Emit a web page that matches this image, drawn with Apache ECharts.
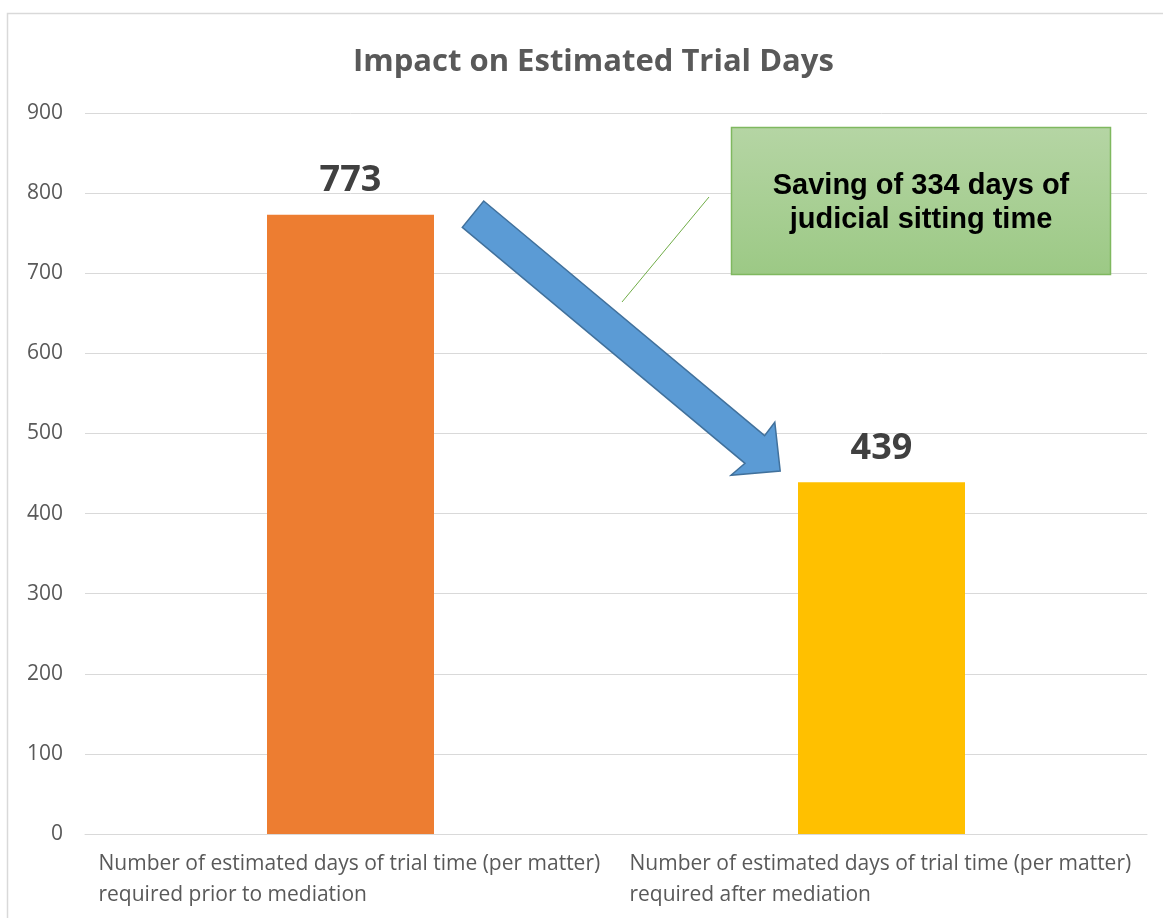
<!DOCTYPE html>
<html>
<head>
<meta charset="utf-8">
<script src="https://cdn.jsdelivr.net/npm/echarts@6/dist/echarts.min.js"></script>
<style>
html,body{margin:0;padding:0;background:#fff;}
#chart{width:1163px;height:918px;}
</style>
</head>
<body>
<div id="chart"></div>
<script>
const titleText = 'Impact on Estimated Trial Days';
const categories = [
  'Number of estimated days of trial time (per matter)\nrequired prior to mediation',
  'Number of estimated days of trial time (per matter)\nrequired after mediation'
];
const values = [773, 439];
const barColors = ['#ed7d31', '#ffc000'];
const yTicks = [0, 100, 200, 300, 400, 500, 600, 700, 800, 900];
const calloutLines = ['Saving of 334 days of', 'judicial sitting time'];

const chart = echarts.init(document.getElementById('chart'));
const option = {
  backgroundColor: '#ffffff',
  animation: false,
  title: {
    text: titleText,
    left: 348,
    top: 42,
    textStyle: { fontFamily: 'Open Sans', fontWeight: 'bold', fontSize: 31, color: '#595959' }
  },
  grid: { left: 85, right: 16, top: 113, bottom: 84 },
  xAxis: {
    type: 'category',
    data: categories,
    axisLine: { show: true, lineStyle: { color: '#d9d9d9', width: 1 } },
    axisTick: { show: false },
    axisLabel: {
      margin: 15,
      interval: 0,
      formatter: function (v) {
        return v.split('\n').map(s => '{a|' + s + '}').join('\n');
      },
      rich: {
        a: { width: 504, align: 'left', fontFamily: 'Open Sans', fontSize: 21, color: '#595959', lineHeight: 31 }
      }
    }
  },
  yAxis: {
    type: 'value',
    min: yTicks[0],
    max: yTicks[yTicks.length - 1],
    interval: 100,
    axisLine: { show: false },
    axisTick: { show: false },
    axisLabel: { margin: 22, fontFamily: 'Open Sans', fontSize: 21, color: '#595959' },
    splitLine: { lineStyle: { color: '#d9d9d9', width: 1 } }
  },
  series: [{
    type: 'bar',
    barWidth: 167,
    data: values.map((v, i) => ({ value: v, itemStyle: { color: barColors[i] } })),
    label: {
      show: true,
      position: 'top',
      distance: 16,
      fontFamily: 'Open Sans',
      fontWeight: 'bold',
      fontSize: 36,
      color: '#404040'
    }
  }],
  graphic: [
    {
      type: 'rect',
      shape: { x: 7.5, y: 13.5, width: 1160, height: 920 },
      style: { fill: 'none', stroke: '#d9d9d9', lineWidth: 1.5 },
      silent: true, z: 1
    },
    {
      type: 'polygon',
      shape: { points: [[483.7, 201], [764.6, 435.7], [774.8, 422.3], [780.2, 471], [731, 475.3], [745, 463.3], [462.3, 227.3]] },
      style: { fill: '#5b9bd5', stroke: '#41719c', lineWidth: 1.5 },
      z: 10
    },
    {
      type: 'line',
      shape: { x1: 709, y1: 197, x2: 622, y2: 302 },
      style: { stroke: '#70ad47', lineWidth: 1 },
      z: 10
    },
    {
      type: 'rect',
      shape: { x: 731.5, y: 127.5, width: 379, height: 147 },
      style: {
        fill: new echarts.graphic.LinearGradient(0, 0, 0, 1, [
          { offset: 0, color: '#b5d5a4' },
          { offset: 1, color: '#9cc985' }
        ]),
        stroke: '#7fb85f', lineWidth: 1.5
      },
      z: 11
    },
    {
      type: 'text',
      x: 921, y: 186,
      style: { text: calloutLines[0], align: 'center', verticalAlign: 'middle', font: 'bold 29px "Liberation Sans", Arial, sans-serif', fill: '#000000' },
      z: 12
    },
    {
      type: 'text',
      x: 921, y: 220,
      style: { text: calloutLines[1], align: 'center', verticalAlign: 'middle', font: 'bold 29px "Liberation Sans", Arial, sans-serif', fill: '#000000' },
      z: 12
    }
  ]
};
chart.setOption(option);
</script>
</body>
</html>
